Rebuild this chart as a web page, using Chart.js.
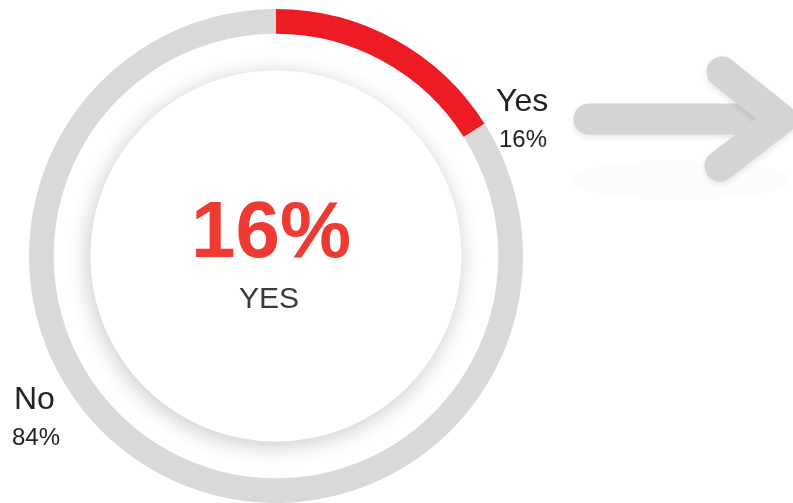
<!DOCTYPE html>
<html>
<head>
<meta charset="utf-8">
<script src="https://cdn.jsdelivr.net/npm/chart.js@4.4.0/dist/chart.umd.min.js"></script>
<style>
  html, body { margin: 0; padding: 0; background: #fff; overflow: hidden; }
  #wrap { width: 793px; height: 503px; }
</style>
</head>
<body>
<div id="wrap"><canvas id="pie" width="793" height="503"></canvas></div>
<script>
// data
const labels = ['Yes', 'No'];
const values = [16, 84];
const colors = ['#ed1c24', '#d9d9d9'];
const centerLabel = 'YES';

// white disc with soft shadow inside the ring
const innerDisc = {
  id: 'innerDisc',
  beforeDatasetsDraw(chart) {
    const arc = chart.getDatasetMeta(0).data[0];
    const ctx = chart.ctx;
    ctx.save();
    ctx.shadowColor = 'rgba(0,0,0,0.22)';
    ctx.shadowBlur = 22;
    ctx.shadowOffsetX = -2;
    ctx.shadowOffsetY = 4;
    ctx.fillStyle = '#fff';
    ctx.beginPath();
    ctx.arc(arc.x, arc.y, arc.innerRadius * 0.835, 0, Math.PI * 2);
    ctx.fill();
    ctx.restore();
  }
};

// centre text, outside labels and the arrow
const texts = {
  id: 'texts',
  afterDatasetsDraw(chart) {
    const ctx = chart.ctx;
    const arc = chart.getDatasetMeta(0).data[0];
    const cx = arc.x;
    const total = values.reduce((a, b) => a + b, 0);
    const pct = values.map(v => Math.round(v / total * 100) + '%');
    ctx.save();
    ctx.textAlign = 'center';
    ctx.textBaseline = 'alphabetic';
    ctx.fillStyle = '#ee3a33';
    ctx.font = 'bold 80px "Liberation Sans", Arial, sans-serif';
    ctx.fillText(pct[0], cx - 5, 257);
    ctx.fillStyle = '#3a3a3a';
    ctx.font = '30px "Liberation Sans", Arial, sans-serif';
    ctx.fillText(centerLabel, cx - 7, 308);

    ctx.textAlign = 'left';
    ctx.fillStyle = '#222';
    ctx.font = '32px "Liberation Sans", Arial, sans-serif';
    ctx.fillText(labels[0], 496, 111);
    ctx.fillText(labels[1], 14, 409);
    ctx.font = '24px "Liberation Sans", Arial, sans-serif';
    ctx.fillText(pct[0], 499, 147);
    ctx.fillText(pct[1], 12, 445);

    // arrow
    ctx.fillStyle = 'rgba(0,0,0,0.012)';
    ctx.beginPath();
    ctx.ellipse(680, 180, 110, 20, 0, 0, Math.PI * 2);
    ctx.fill();
    ctx.strokeStyle = '#d4d4d4';
    ctx.lineWidth = 31;
    ctx.lineCap = 'round';
    ctx.lineJoin = 'round';
    ctx.shadowColor = 'rgba(0,0,0,0.1)';
    ctx.shadowBlur = 6;
    ctx.shadowOffsetY = 3;
    ctx.beginPath();
    ctx.moveTo(589, 119);
    ctx.lineTo(772, 119);
    ctx.stroke();
    ctx.beginPath();
    ctx.moveTo(722, 72);
    ctx.lineTo(781, 119);
    ctx.lineTo(720, 166);
    ctx.stroke();
    ctx.restore();
  }
};

new Chart(document.getElementById('pie'), {
  type: 'doughnut',
  data: {
    labels: labels,
    datasets: [{ data: values, backgroundColor: colors, borderWidth: 0, hoverOffset: 0 }]
  },
  options: {
    responsive: false,
    animation: false,
    cutout: '90%',
    layout: { padding: { left: 28, top: 9, right: 269, bottom: 0 } },
    plugins: { legend: { display: false }, tooltip: { enabled: false } }
  },
  plugins: [innerDisc, texts]
});
</script>
</body>
</html>
